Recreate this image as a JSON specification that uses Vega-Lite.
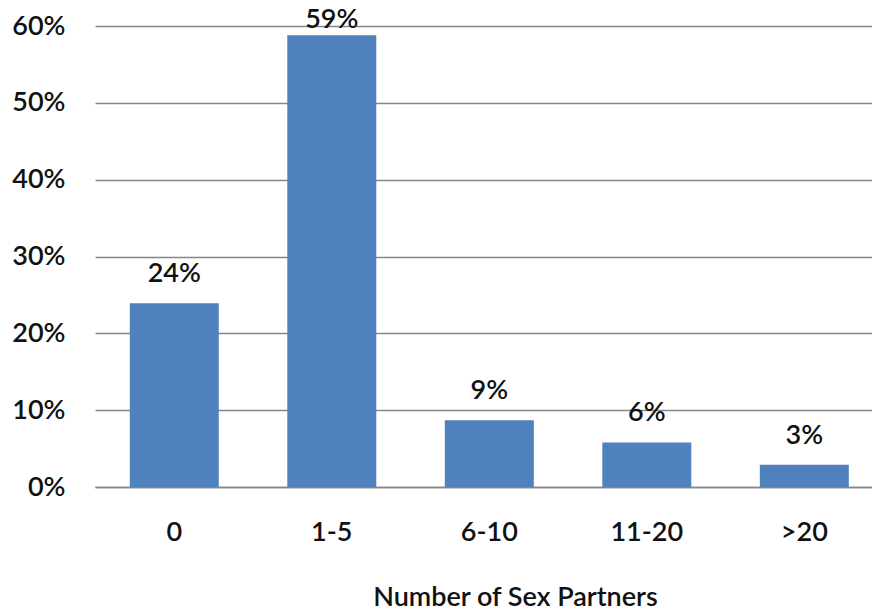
{
  "$schema": "https://vega.github.io/schema/vega-lite/v6.json",
  "autosize": "none",
  "padding": {"left": 95, "top": 26, "right": 0, "bottom": 125},
  "width": 777,
  "height": 461,
  "background": "white",
  "config": {
    "view": {"stroke": null},
    "font": "Lato",
    "text": {"font": "Lato"}
  },
  "data": {
    "values": [
      {"partners": "0", "share": 0.239},
      {"partners": "1-5", "share": 0.588},
      {"partners": "6-10", "share": 0.087},
      {"partners": "11-20", "share": 0.058},
      {"partners": ">20", "share": 0.029}
    ]
  },
  "encoding": {
    "x": {
      "field": "partners",
      "type": "nominal",
      "sort": null,
      "scale": {"paddingInner": 0.435, "paddingOuter": 0.184, "align": 0.6},
      "axis": {
        "title": "Number of Sex Partners",
        "labelAngle": 0,
        "labelFont": "Lato",
        "labelFontSize": 27,
        "labelFontWeight": 600,
        "labelColor": "#111111",
        "labelPadding": 32,
        "labelBaseline": "top",
        "ticks": false,
        "domain": true,
        "domainColor": "#868686",
        "domainWidth": 1.3,
        "titleFont": "Lato",
        "titleFontSize": 27,
        "titleFontWeight": 600,
        "titleColor": "#111111",
        "titleX": 420,
        "titleY": 118,
        "titleAlign": "center",
        "titleBaseline": "alphabetic"
      }
    },
    "y": {
      "field": "share",
      "type": "quantitative",
      "scale": {"domain": [0, 0.6], "nice": false},
      "axis": {
        "title": null,
        "values": [0, 0.1, 0.2, 0.3, 0.4, 0.5, 0.6],
        "format": ".0%",
        "grid": true,
        "gridColor": "#868686",
        "gridWidth": 1.3,
        "domain": false,
        "ticks": false,
        "labelPadding": 30,
        "labelFont": "Lato",
        "labelFontSize": 27,
        "labelFontWeight": 600,
        "labelColor": "#111111",
        "labelBaseline": "middle"
      }
    }
  },
  "layer": [
    {"mark": {"type": "bar", "color": "#4F81BD"}},
    {
      "transform": [{"filter": "datum.share < 0.5"}],
      "mark": {"type": "text", "baseline": "alphabetic", "dy": -21, "fontSize": 27, "fontWeight": 600, "color": "#111111", "font": "Lato"},
      "encoding": {"text": {"field": "share", "type": "quantitative", "format": ".0%"}}
    },
    {
      "transform": [{"filter": "datum.share >= 0.5"}],
      "mark": {"type": "text", "baseline": "alphabetic", "dy": -7, "fontSize": 27, "fontWeight": 600, "color": "#111111", "font": "Lato"},
      "encoding": {"text": {"field": "share", "type": "quantitative", "format": ".0%"}}
    }
  ]
}
